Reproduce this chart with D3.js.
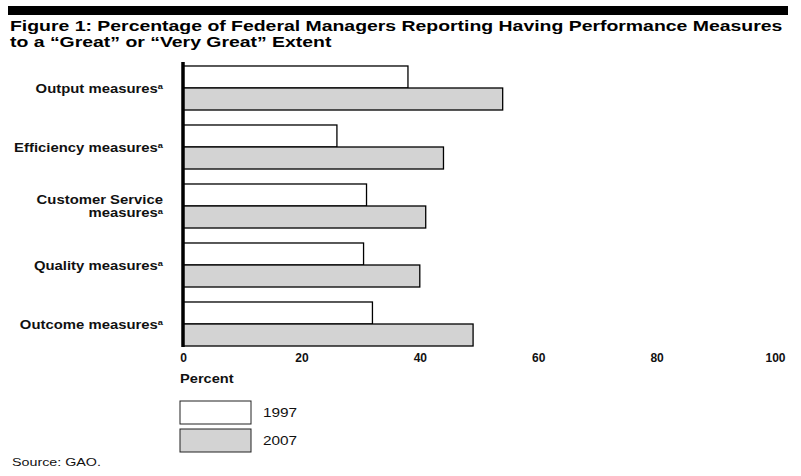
<!DOCTYPE html>
<html><head><meta charset="utf-8">
<script src="https://cdn.jsdelivr.net/npm/d3@7"></script>
<style>body{margin:0;background:#fff}svg{display:block;font-family:"Liberation Sans",Arial,sans-serif}</style>
</head><body><svg id="c" width="801" height="476"></svg>
<script>
const categories = ["Output measures", "Efficiency measures", "Customer Service measures", "Quality measures", "Outcome measures"];
const labelLines = [["Output measures"], ["Efficiency measures"], ["Customer Service", "measures"], ["Quality measures"], ["Outcome measures"]];
const series = ["1997", "2007"];
const values1997 = [38, 26, 31, 30.5, 32];
const values2007 = [54, 44, 41, 40, 49];
const xTicks = [0, 20, 40, 60, 80, 100];
const colors = ["#ffffff", "#d3d3d3"];

const svg = d3.select("#c");
const x = d3.scaleLinear().domain([0, 100]).range([183, 775]);
const y = d3.scaleBand().domain(categories).range([58.5, 353.5]).paddingInner(0.254).paddingOuter(0.127);
const sub = d3.scaleBand().domain(series).range([0, y.bandwidth()]);

function stext(parent, px, py, sx, anchor) {
  return parent.append("g").attr("transform", `translate(${px},${py}) scale(${sx},1)`)
    .append("text").attr("x", 0).attr("y", 0).attr("text-anchor", anchor || "start");
}

// title
svg.append("rect").attr("x", 8).attr("y", 6).attr("width", 780).attr("height", 9).attr("fill", "#000");
stext(svg, 10, 31, 1.34).attr("font-size", 14.5).attr("font-weight", "bold")
  .text("Figure 1: Percentage of Federal Managers Reporting Having Performance Measures");
stext(svg, 10, 46.5, 1.34).attr("font-size", 14.5).attr("font-weight", "bold")
  .text("to a \u201cGreat\u201d or \u201cVery Great\u201d Extent");

const data = [];
categories.forEach((c, i) => {
  data.push({c, s: "1997", v: values1997[i]});
  data.push({c, s: "2007", v: values2007[i]});
});

svg.append("g").selectAll("rect").data(data).join("rect")
  .attr("x", x(0))
  .attr("y", d => y(d.c) + sub(d.s))
  .attr("width", d => x(d.v) - x(0))
  .attr("height", sub.bandwidth())
  .attr("fill", d => colors[series.indexOf(d.s)])
  .attr("stroke", "#000").attr("stroke-width", 1.3);

svg.append("line").attr("x1", x(0)).attr("x2", x(0))
  .attr("y1", y(categories[0]) - 4).attr("y2", y(categories[4]) + y.bandwidth() + 1)
  .attr("stroke", "#000").attr("stroke-width", 3.5);

categories.forEach((c, i) => {
  const lines = labelLines[i];
  const cy = y(c) + y.bandwidth() / 2;
  const lh = 13;
  lines.forEach((ln, j) => {
    const t = stext(svg, 163, cy + (j - (lines.length - 1) / 2) * lh + 4.5, 1.24, "end")
      .attr("font-size", 12).attr("font-weight", "bold").attr("fill", "#111");
    t.append("tspan").text(ln);
    if (j === lines.length - 1) {
      t.append("tspan").attr("font-size", 7.5).attr("dy", -3.5).text("a");
    }
  });
});

const xAxis = d3.axisBottom(x).tickValues(xTicks).tickSize(0).tickPadding(0);
const ag = svg.append("g").attr("transform", "translate(0,352)").call(xAxis);
ag.select(".domain").remove();
ag.selectAll("text").attr("font-size", 12).attr("font-weight", "bold").attr("fill", "#111")
  .attr("font-family", "Liberation Sans, Arial, sans-serif").attr("dy", "0.85em");
stext(svg, 180, 383, 1.22).attr("font-size", 12).attr("font-weight", "bold").attr("fill", "#111").text("Percent");

series.forEach((s, i) => {
  const ly = 401 + i * 28;
  svg.append("rect").attr("x", 180).attr("y", ly).attr("width", 71).attr("height", 23)
    .attr("fill", colors[i]).attr("stroke", "#222").attr("stroke-width", 1);
  stext(svg, 263, ly + 15.5, 1.28).attr("font-size", 12).attr("fill", "#111").text(s);
});

stext(svg, 12, 466, 1.3).attr("font-size", 11).attr("fill", "#111").text("Source: GAO.");
</script></body></html>
